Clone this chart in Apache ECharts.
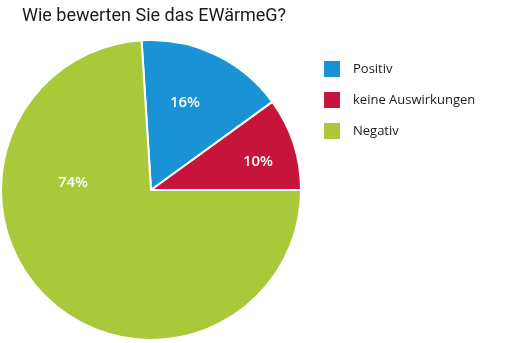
<!DOCTYPE html>
<html>
<head>
<meta charset="utf-8">
<style>
  html, body { margin: 0; padding: 0; background: #ffffff; }
  #chart { width: 506px; height: 343px; }
</style>
<script src="https://cdn.jsdelivr.net/npm/echarts@6/dist/echarts.min.js"></script>
</head>
<body>
<div id="chart"></div>
<script>
// Survey result: opinion on the EWärmeG
const categories = ['Positiv', 'keine Auswirkungen', 'Negativ'];
const shares = [16, 10, 74];
const colors = ['#1a92d6', '#c6143b', '#a9c83a'];

// Label anchor points (pixel positions inside each slice)
const labelPos = [[185, 103], [258, 162], [73, 183]];

const chart = echarts.init(document.getElementById('chart'), null, { renderer: 'canvas' });

chart.setOption({
  animation: false,
  backgroundColor: '#ffffff',
  title: {
    text: 'Wie bewerten Sie das EWärmeG?',
    left: 22,
    top: 7,
    padding: 0,
    textStyle: {
      fontFamily: 'Roboto',
      fontSize: 18,
      fontWeight: 'normal',
      color: '#1a1a1a'
    }
  },
  legend: {
    orient: 'vertical',
    left: 322,
    top: 59,
    padding: 0,
    icon: 'rect',
    itemWidth: 18,
    itemHeight: 18,
    itemGap: 11,
    data: categories,
    textStyle: {
      fontFamily: 'Open Sans',
      fontSize: 13,
      color: '#1a1a1a',
      padding: [0, 0, 0, 7]
    }
  },
  series: [{
    type: 'pie',
    center: [151, 190],
    radius: 150,
    startAngle: 93.6,
    clockwise: true,
    avoidLabelOverlap: false,
    itemStyle: { borderColor: '#ffffff', borderWidth: 2 },
    label: {
      show: true,
      position: 'inside',
      formatter: '{c}%',
      color: '#ffffff',
      fontFamily: 'Open Sans',
      fontWeight: 600,
      fontSize: 15
    },
    labelLine: { show: false },
    labelLayout: function (params) {
      const p = labelPos[params.dataIndex];
      return { x: p[0], y: p[1], align: 'center', verticalAlign: 'middle' };
    },
    emphasis: { disabled: true },
    data: categories.map((name, i) => ({
      name: name,
      value: shares[i],
      itemStyle: { color: colors[i] }
    }))
  }]
});
</script>
</body>
</html>
